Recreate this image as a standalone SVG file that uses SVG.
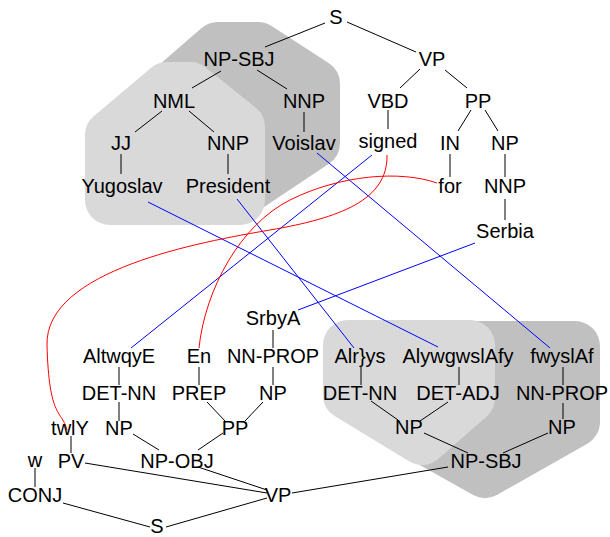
<svg xmlns="http://www.w3.org/2000/svg" width="610" height="537" viewBox="0 0 610 537">
<style>
text{font-family:"Liberation Sans",Arial,sans-serif;font-size:20px;text-anchor:middle;fill:#000}
.dark{fill:#c0c0c0;stroke:#c0c0c0;stroke-width:50;stroke-linejoin:round}
.light{fill:#d9d9d9;stroke:#d9d9d9;stroke-width:50;stroke-linejoin:round}
.e{stroke:#000;stroke-width:1;fill:none}
.b{stroke:#0000ff;stroke-width:1;fill:none}
.r{stroke:#ff0000;stroke-width:1;fill:none}
</style>
<rect width="610" height="537" fill="#fff"/>
<g id="highlights">
<polygon class="dark" points="218,47 258,47 315,84 315,143 240,193 120,132"/>
<polygon class="light" points="167,87 190,87 240,127 240,200 110,200 110,135"/>
<polygon class="dark" points="412,346 575,346 575,422 485,473 412,432"/>
<polygon class="light" points="348,345 470,345 470,398 422,440 348,395"/>
</g>
<g id="connectors">
<line class="e" x1="325" y1="23" x2="265" y2="47"/>
<line class="e" x1="347" y1="22" x2="416" y2="52"/>
<line class="e" x1="221" y1="71" x2="192" y2="88"/>
<line class="e" x1="257" y1="70" x2="287" y2="89"/>
<line class="e" x1="162" y1="111" x2="135" y2="132"/>
<line class="e" x1="189" y1="111" x2="214" y2="132"/>
<line class="e" x1="121" y1="154" x2="121" y2="174"/>
<line class="e" x1="228" y1="154" x2="228" y2="174"/>
<line class="e" x1="304" y1="112" x2="304" y2="132"/>
<line class="e" x1="420" y1="69" x2="400" y2="88"/>
<line class="e" x1="445" y1="70" x2="467" y2="88"/>
<line class="e" x1="388" y1="110" x2="388" y2="129"/>
<line class="e" x1="471" y1="110" x2="458" y2="131"/>
<line class="e" x1="485" y1="110" x2="498" y2="131"/>
<line class="e" x1="450" y1="154" x2="450" y2="177"/>
<line class="e" x1="505" y1="154" x2="505" y2="177"/>
<line class="e" x1="505" y1="199" x2="505" y2="220"/>
<line class="e" x1="63" y1="503" x2="150" y2="527"/>
<line class="e" x1="267" y1="498" x2="166" y2="527"/>
<line class="e" x1="85" y1="463" x2="267" y2="493"/>
<line class="e" x1="198" y1="467" x2="267" y2="490"/>
<line class="e" x1="292" y1="493" x2="448" y2="467"/>
<line class="e" x1="35" y1="468" x2="35" y2="487"/>
<line class="e" x1="71" y1="436" x2="71" y2="453"/>
<line class="e" x1="133" y1="434" x2="159" y2="450"/>
<line class="e" x1="223" y1="433" x2="198" y2="450"/>
<line class="e" x1="119" y1="402" x2="119" y2="421"/>
<line class="e" x1="119" y1="367" x2="119" y2="385"/>
<line class="e" x1="207" y1="402" x2="226" y2="422"/>
<line class="e" x1="263" y1="402" x2="245" y2="421"/>
<line class="e" x1="199" y1="367" x2="199" y2="385"/>
<line class="e" x1="273" y1="367" x2="273" y2="385"/>
<line class="e" x1="273" y1="330" x2="273" y2="348"/>
<line class="e" x1="361" y1="367" x2="361" y2="385"/>
<line class="e" x1="459" y1="367" x2="459" y2="385"/>
<line class="e" x1="563" y1="367" x2="563" y2="385"/>
<line class="e" x1="371" y1="401" x2="398" y2="420"/>
<line class="e" x1="448" y1="402" x2="420" y2="421"/>
<line class="e" x1="563" y1="403" x2="563" y2="419"/>
<line class="e" x1="424" y1="433" x2="468" y2="453"/>
<line class="e" x1="548" y1="433" x2="503" y2="453"/>
<line class="b" x1="148" y1="202" x2="438" y2="347"/>
<line class="b" x1="237" y1="199" x2="354" y2="348"/>
<line class="b" x1="317" y1="153" x2="550" y2="348"/>
<line class="b" x1="372" y1="155" x2="131" y2="348"/>
<line class="b" x1="475" y1="243" x2="298" y2="310"/>
<path class="r" d="M387,155 C388,200 340,218 270,230 S45,270 47,345 S62,410 67,430"/>
<path class="r" d="M437,183 C400,170 340,175 290,200 S205,290 199,348"/>
</g>
<g id="n-S"><text x="336" y="24">S</text></g>
<g id="n-NP-SBJ"><text x="239" y="66">NP-SBJ</text></g>
<g id="n-VP"><text x="432" y="66">VP</text></g>
<g id="n-NML"><text x="174" y="108">NML</text></g>
<g id="n-NNP1"><text x="304" y="108">NNP</text></g>
<g id="n-VBD"><text x="388" y="108">VBD</text></g>
<g id="n-PP"><text x="478" y="108">PP</text></g>
<g id="n-JJ"><text x="121" y="150">JJ</text></g>
<g id="n-NNP2"><text x="228" y="150">NNP</text></g>
<g id="n-Voislav"><text x="304" y="150">Voislav</text></g>
<g id="n-signed"><text x="388" y="148">signed</text></g>
<g id="n-IN"><text x="450" y="150">IN</text></g>
<g id="n-NP1"><text x="505" y="150">NP</text></g>
<g id="n-Yugoslav"><text x="122" y="193">Yugoslav</text></g>
<g id="n-President"><text x="228" y="193">President</text></g>
<g id="n-for"><text x="450" y="193">for</text></g>
<g id="n-NNP3"><text x="505" y="193">NNP</text></g>
<g id="n-Serbia"><text x="505" y="238">Serbia</text></g>
<g id="a-SrbyA"><text x="273" y="325">SrbyA</text></g>
<g id="a-AltwqyE"><text x="119" y="363">AltwqyE</text></g>
<g id="a-En"><text x="199" y="363">En</text></g>
<g id="a-NN-PROP1"><text x="273" y="363">NN-PROP</text></g>
<g id="a-Alrys"><text x="360" y="363">Alr}ys</text></g>
<g id="a-AlywgwslAfy"><text x="458" y="363">AlywgwslAfy</text></g>
<g id="a-fwyslAf"><text x="562" y="363">fwyslAf</text></g>
<g id="a-DET-NN1"><text x="119" y="400">DET-NN</text></g>
<g id="a-PREP"><text x="199" y="400">PREP</text></g>
<g id="a-NP1"><text x="273" y="400">NP</text></g>
<g id="a-DET-NN2"><text x="360" y="400">DET-NN</text></g>
<g id="a-DET-ADJ"><text x="458" y="400">DET-ADJ</text></g>
<g id="a-NN-PROP2"><text x="562" y="400">NN-PROP</text></g>
<g id="a-twlY"><text x="70" y="435">twlY</text></g>
<g id="a-NP2"><text x="119" y="435">NP</text></g>
<g id="a-PP"><text x="235" y="435">PP</text></g>
<g id="a-NP3"><text x="409" y="434">NP</text></g>
<g id="a-NP4"><text x="562" y="434">NP</text></g>
<g id="a-w"><text x="35" y="467">w</text></g>
<g id="a-PV"><text x="71" y="468">PV</text></g>
<g id="a-NP-OBJ"><text x="177" y="468">NP-OBJ</text></g>
<g id="a-NP-SBJ"><text x="486" y="468">NP-SBJ</text></g>
<g id="a-CONJ"><text x="35" y="502">CONJ</text></g>
<g id="a-VP"><text x="278" y="502">VP</text></g>
<g id="a-S"><text x="157" y="533">S</text></g>
</svg>
